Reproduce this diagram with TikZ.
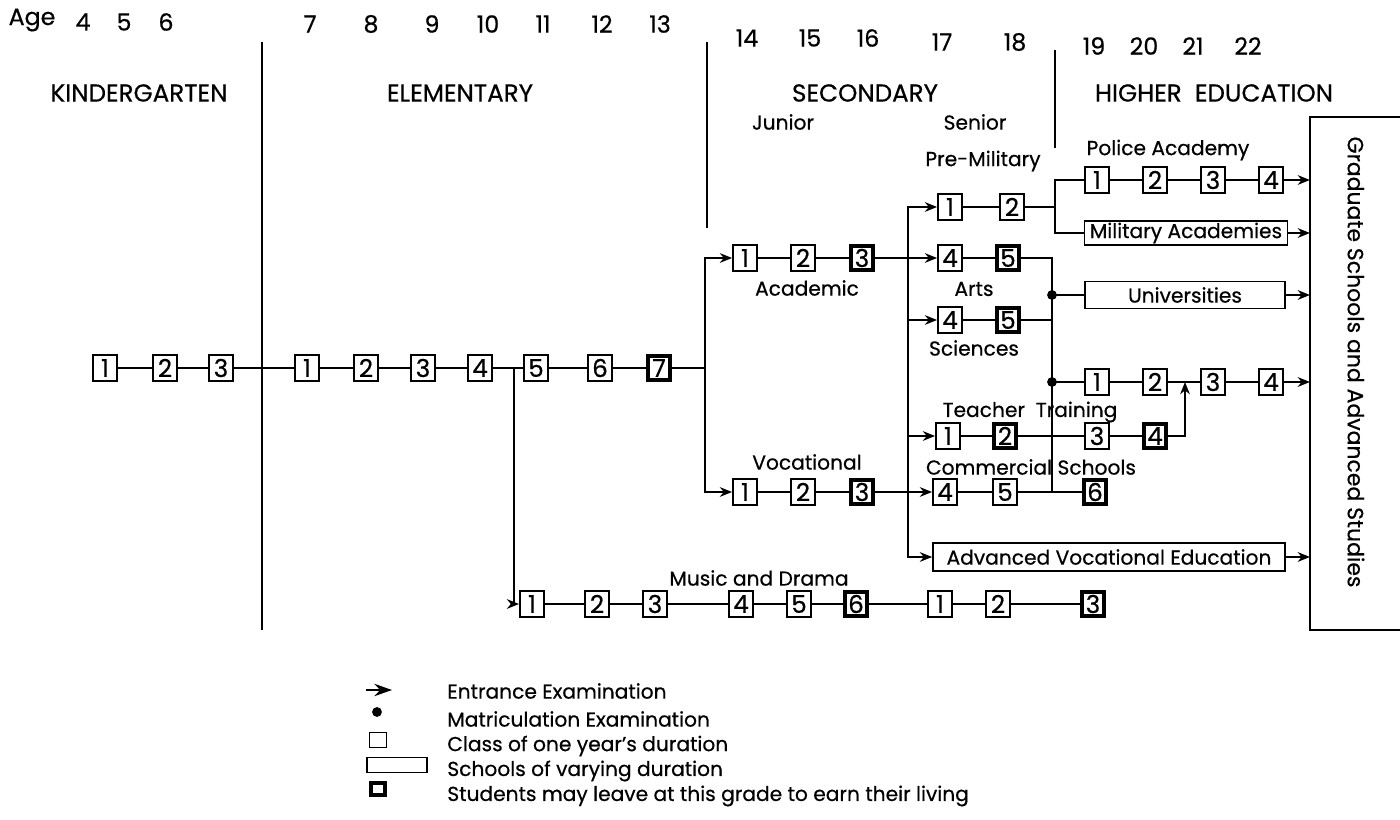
\documentclass[tikz,border=0pt]{standalone}
\usepackage{fontspec}
\setmainfont{Poppins}[FakeBold=0.5]
\usepackage{tikz}
\usetikzlibrary{arrows.meta}

\newcommand{\lblfont}{\fontsize{11.5}{13}\selectfont}
\newcommand{\hdfont}{\fontsize{14}{15}\selectfont}
\newcommand{\agefont}{\fontsize{13.5}{14}\selectfont}
\newcommand{\digfont}{\fontsize{14}{14}\selectfont}

\begin{document}
\begin{tikzpicture}[x=0.02cm, y=-0.02cm,
    yr/.style={rectangle, draw, line width=1pt, minimum width=0.48cm,
               minimum height=0.52cm, inner sep=0pt, font=\digfont},
    yrx/.style={yr, line width=2.4pt, minimum width=0.44cm, minimum height=0.48cm},
    sch/.style={rectangle, draw, line width=1pt, minimum height=0.46cm,
                inner sep=1pt, font=\lblfont},
    lbl/.style={font=\lblfont, inner sep=0pt},
    hd/.style={font=\hdfont, inner sep=0pt},
    ag/.style={font=\agefont, inner sep=0pt},
    con/.style={line width=1pt},
    arr/.style={-{Stealth[length=7pt,width=5.5pt]}, line width=1pt},
]
  \useasboundingbox (0,0) rectangle (1400,820);

  % Ages
  \node[ag] (age) at (32,20) {Age};
  \node[ag] (a4) at (83,22) {4};
  \node[ag] (a5) at (124,22) {5};
  \node[ag] (a6) at (166,22) {6};
  \node[ag] (a7) at (310,24) {7};
  \node[ag] (a8) at (371,24) {8};
  \node[ag] (a9) at (432,24) {9};
  \node[ag] (a10) at (488,24) {10};
  \node[ag] (a11) at (543,24) {11};
  \node[ag] (a12) at (602,24) {12};
  \node[ag] (a13) at (660,24) {13};
  \node[ag] (a14) at (747,38) {14};
  \node[ag] (a15) at (810,38) {15};
  \node[ag] (a16) at (868,38) {16};
  \node[ag] (a17) at (942,42) {17};
  \node[ag] (a18) at (1015,42) {18};
  \node[ag] (a19) at (1094,46) {19};
  \node[ag] (a20) at (1144,46) {20};
  \node[ag] (a21) at (1193,46) {21};
  \node[ag] (a22) at (1248,46) {22};

  % Stage headings and dividers
  \node[hd] (hk) at (139,93) {KINDERGARTEN};
  \node[hd] (he) at (460,93) {ELEMENTARY};
  \node[hd] (hs) at (865,93) {SECONDARY};
  \node[lbl] (hj) at (783,122) {Junior};
  \node[lbl] (hsn) at (975,122) {Senior};
  \node[hd] (hh) at (1214,93) {HIGHER~~EDUCATION};
  \draw[con] (262,42) -- (262,630);
  \draw[con] (707,42) -- (707,228);
  \draw[con] (1055,50) -- (1055,148);

  % Kindergarten and elementary
  \node[yr] (k1) at (105,368) {1};
  \node[yr] (k2) at (165,368) {2};
  \node[yr] (k3) at (221,368) {3};
  \node[yr] (e1) at (307,368) {1};
  \node[yr] (e2) at (366,368) {2};
  \node[yr] (e3) at (423,368) {3};
  \node[yr] (e4) at (480,368) {4};
  \node[yr] (e5) at (536,368) {5};
  \node[yr] (e6) at (600,368) {6};
  \node[yrx] (e7) at (659,368) {7};

  % Music and drama
  \node[lbl] (mdl) at (759,578) {Music and Drama};
  \node[yr] (md1) at (532,604) {1};
  \node[yr] (md2) at (597,604) {2};
  \node[yr] (md3) at (655,604) {3};
  \node[yr] (md4) at (741,604) {4};
  \node[yr] (md5) at (799,604) {5};
  \node[yrx] (md6) at (856,604) {6};
  \node[yr] (md7) at (940,604) {1};
  \node[yr] (md8) at (998,604) {2};
  \node[yrx] (md9) at (1093,604) {3};

  % Junior secondary
  \node[yr] (ja1) at (745,258) {1};
  \node[yr] (ja2) at (803,258) {2};
  \node[yrx] (ja3) at (862,258) {3};
  \node[lbl] (jal) at (807,288) {Academic};
  \node[lbl] (jvl) at (807,462) {Vocational};
  \node[yr] (jv1) at (745,492) {1};
  \node[yr] (jv2) at (803,492) {2};
  \node[yrx] (jv3) at (862,492) {3};

  % Senior secondary
  \node[lbl] (pml) at (983,161) {Pre-Military};
  \node[yr] (pm1) at (950,207) {1};
  \node[yr] (pm2) at (1012,207) {2};
  \node[yr] (ar4) at (950,258) {4};
  \node[yrx] (ar5) at (1008,258) {5};
  \node[lbl] (arl) at (974,289) {Arts};
  \node[yr] (sc4) at (950,320) {4};
  \node[yrx] (sc5) at (1008,320) {5};
  \node[lbl] (scl) at (974,348) {Sciences};
  \node[lbl] (ttl) at (1030,412) {Teacher~~Training};
  \node[yr] (tt1) at (948,436) {1};
  \node[yrx] (tt2) at (1005,436) {2};
  \node[yr] (tt3) at (1097,436) {3};
  \node[yrx] (tt4) at (1155,436) {4};
  \node[lbl] (csl) at (1031,467) {Commercial Schools};
  \node[yr] (cs4) at (945,492) {4};
  \node[yr, line width=0.6pt] (cs5) at (1005,492) {5};
  \node[yrx] (cs6) at (1095,492) {6};
  \node[sch, minimum width=7.04cm, minimum height=0.56cm] (av) at (1109,557) {Advanced Vocational Education};

  % Higher education
  \node[lbl] (pol) at (1168,150) {Police Academy};
  \node[yr] (po1) at (1097,180) {1};
  \node[yr] (po2) at (1155,180) {2};
  \node[yr] (po3) at (1213,180) {3};
  \node[yr] (po4) at (1271,180) {4};
  \node[sch, minimum width=4.06cm, minimum height=0.46cm] (ma) at (1186,233) {Military Academies};
  \node[sch, minimum width=4.0cm, minimum height=0.54cm] (un) at (1185,295) {Universities};
  \node[yr] (hi1) at (1097,382) {1};
  \node[yr] (hi2) at (1155,382) {2};
  \node[yr] (hi3) at (1213,382) {3};
  \node[yr] (hi4) at (1271,382) {4};

  % Graduate schools (open to the right)
  \draw[con] (1400,117) -| (1310,630) -- (1400,630);
  \node[lbl, font=\fontsize{12.5}{13}\selectfont, rotate=-90] (gs) at (1356,362) {Graduate Schools and Advanced Studies};
  \coordinate (gsw) at (1310,373);

  % Junctions
  \coordinate (eb) at (514,368);
  \coordinate (sj) at (705,368);
  \coordinate (ss) at (908,258);
  \coordinate (pj) at (1055,207);
  \coordinate (mt) at (1052,258);
  \coordinate (mb) at (1052,492);
  \coordinate (m1) at (1052,295);
  \coordinate (m2) at (1052,382);
  \coordinate (tj) at (1185,436);

  % Main line
  \draw[con] (k1) -- (k2) -- (k3) -- (e1) -- (e2) -- (e3) -- (e4) -- (e5) -- (e6) -- (e7) -- (sj);
  \draw[arr] (eb) |- (md1);
  \draw[con] (md1) -- (md2) -- (md3) -- (md4) -- (md5) -- (md6) -- (md7) -- (md8) -- (md9);
  \draw[arr] (sj) |- (ja1);
  \draw[arr] (sj) |- (jv1);
  \draw[con] (ja1) -- (ja2) -- (ja3);
  \draw[con] (jv1) -- (jv2) -- (jv3);
  \draw[arr] (ja3) -- (ar4);
  \draw[arr] (jv3) -- (cs4);

  % Senior branches
  \draw[arr] (ss) |- (pm1);
  \draw[arr] (ss) |- (sc4);
  \draw[arr] (ss) |- (tt1);
  \draw[arr] (ss) |- (av);
  \draw[con] (pm1) -- (pm2) -- (pj);
  \draw[con] (pj) |- (po1);
  \draw[con] (pj) |- (ma);
  \draw[con] (po1) -- (po2) -- (po3) -- (po4);
  \draw[con] (ar4) -- (ar5);
  \draw[con] (sc4) -- (sc5);
  \draw[con] (ar5) -- (mt) -- (mb);
  \draw[con] (sc5) -- (sc5 -| mt);
  \draw[con] (cs4) -- (cs5) -- (cs6);
  \draw[con] (tt1) -- (tt2) -- (tt3) -- (tt4);
  \draw[con] (m1) -- (un);
  \draw[con] (m2) -- (hi1);
  \draw[con] (hi1) -- (hi2) -- (hi3) -- (hi4);
  \draw[arr] (tt4) -- (tj) -- (tj |- hi2);
  \fill (m1) circle (2.8pt);
  \fill (m2) circle (2.8pt);

  % Into graduate schools
  \draw[arr] (po4) -- (po4 -| gsw);
  \draw[arr] (ma) -- (ma -| gsw);
  \draw[arr] (un) -- (un -| gsw);
  \draw[arr] (hi4) -- (hi4 -| gsw);
  \draw[arr] (av) -- (av -| gsw);

  % Legend
  \coordinate (la0) at (366,690);
  \coordinate (la1) at (392,690);
  \draw[-{Stealth[length=10pt,width=7pt]}, line width=1.2pt] (la0) -- (la1);
  \fill (377,712) circle (2.8pt);
  \node[yr, minimum width=0.34cm, minimum height=0.3cm] (lb1) at (378,740) {};
  \node[sch, minimum width=1.2cm, minimum height=0.3cm] (lb2) at (397,765) {};
  \node[yrx, minimum width=0.28cm, minimum height=0.24cm] (lb3) at (378,789) {};
  \node[lbl, anchor=west] (lt1) at (447,691) {Entrance Examination};
  \node[lbl, anchor=west] (lt2) at (447,719) {Matriculation Examination};
  \node[lbl, anchor=west] (lt3) at (447,746) {Class of one year's duration};
  \node[lbl, anchor=west] (lt4) at (447,771) {Schools of varying duration};
  \node[lbl, anchor=west] (lt5) at (447,796) {Students may leave at this grade to earn their living};
\end{tikzpicture}
\end{document}
